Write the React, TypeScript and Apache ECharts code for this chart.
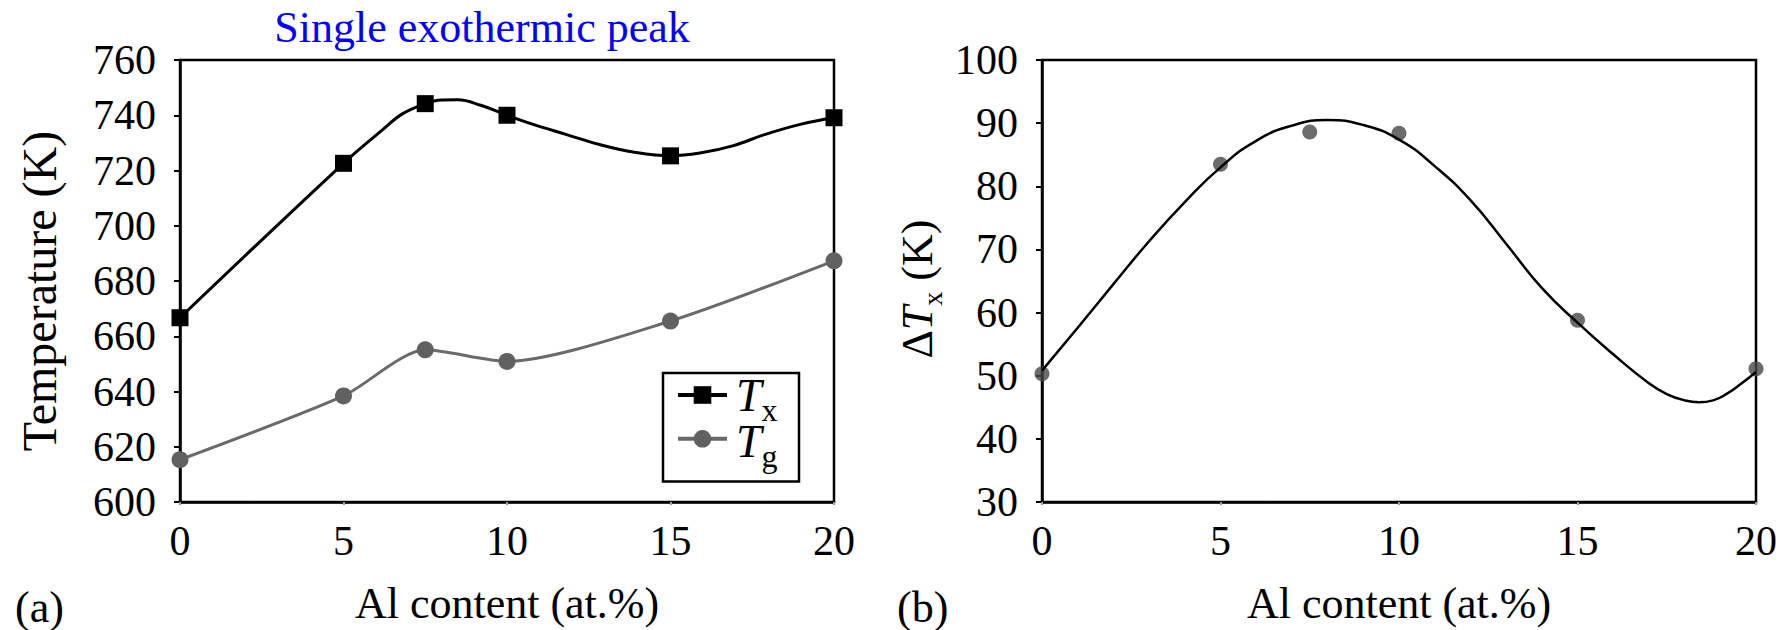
import React, { useEffect, useRef } from 'react';
import * as echarts from 'echarts';

// ---- data ----
const alContent = [0, 5, 7.5, 10, 15, 20];
const txValues = [666.7, 722.6, 744.2, 740.0, 725.3, 739.1];
const tgValues = [615.3, 638.4, 655.1, 650.9, 665.5, 687.3];
const deltaTxValues = [50.3, 83.5, 88.6, 88.4, 58.8, 51.1];
// smoothed Tx line of panel (a)
const txCurveX = [0, 5, 6.2, 6.8, 7.5, 8.0, 8.5, 9.2, 10, 10.8, 11.8, 12.8, 13.9, 15, 15.9, 16.9, 17.9, 19, 20];
const txCurveY = [666.7, 722.6, 734.8, 740.5, 744.2, 745.5, 745.6, 743.6, 740.0, 736.7, 733.1, 729.5, 726.6, 725.3, 726.3, 728.9, 733.1, 736.8, 739.1];
// fitted curve of panel (b)
const fitX = [0, 1, 2, 3, 4, 5, 6, 7, 8, 9, 10, 11, 12, 13, 14, 15, 16, 17, 17.5, 18, 18.4, 18.8, 19.2, 19.6, 20];
const fitY = [50.8, 57.6, 64.5, 71.3, 77.5, 83.0, 87.2, 89.6, 90.5, 89.7, 87.4, 83.2, 77.8, 70.9, 63.9, 58.4, 53.4, 48.8, 47.1, 46.1, 45.8, 46.1, 47.2, 48.8, 50.6];

const xRange = { min: 0, max: 20, interval: 5 };
const tempRange = { min: 600, max: 760, interval: 20 };
const deltaRange = { min: 30, max: 100, interval: 10 };

const FONT = '"Liberation Serif", "Times New Roman", serif';

export default function App() {
  const ref = useRef<HTMLDivElement>(null);
  useEffect(() => {
    if (!ref.current) return;
    const chart = echarts.init(ref.current, undefined, { renderer: 'svg' });
    const labelStyle = { fontFamily: FONT, fontSize: 42, color: '#000' };
    const nameStyle = { fontFamily: FONT, fontSize: 44, color: '#000' };
    const legendRich = {
      i: { fontFamily: FONT, fontStyle: 'italic', fontSize: 46, lineHeight: 44, fill: '#000' },
      s: { fontFamily: FONT, fontSize: 32, lineHeight: 44, height: 14, verticalAlign: 'bottom', fill: '#000' },
    };
    const xAxisBase = (gridIndex: number) => ({
      gridIndex,
      type: 'value',
      ...xRange,
      splitLine: { show: false },
      axisLine: { show: true, lineStyle: { color: '#000', width: 2.5 } },
      axisTick: { show: true, length: 3, lineStyle: { color: '#999', width: 2 } },
      axisLabel: { ...labelStyle, margin: 18 },
      name: 'Al content (at.%)',
      nameLocation: 'middle',
      nameGap: 79,
      nameTextStyle: nameStyle,
    });
    const yAxisBase = (gridIndex: number) => ({
      gridIndex,
      type: 'value',
      splitLine: { show: false },
      axisLine: { show: true, lineStyle: { color: '#000', width: 2.5 } },
      axisTick: { show: true, length: 6, lineStyle: { color: '#000', width: 2 } },
      axisLabel: { ...labelStyle, margin: 24 },
    });
    const option: any = {
      animation: false,
      backgroundColor: '#fff',
      grid: [
        { left: 180, top: 60, width: 654, height: 446, show: true, borderColor: '#000', borderWidth: 2.5 },
        { left: 1042, top: 60, width: 714, height: 446, show: true, borderColor: '#000', borderWidth: 2.5 },
      ],
      xAxis: [xAxisBase(0), xAxisBase(1)],
      yAxis: [
        { ...yAxisBase(0), ...tempRange },
        { ...yAxisBase(1), ...deltaRange },
      ],
      legend: {
        data: ['Tx', 'Tg'],
        orient: 'vertical',
        left: 663,
        top: 373,
        padding: [11, 70, 34, 13],
        itemGap: 24,
        itemWidth: 49,
        itemHeight: 22,
        borderColor: '#000',
        borderWidth: 2.5,
        backgroundColor: '#fff',
        lineStyle: { width: 4 },
        formatter: () => '',
        textStyle: { color: '#000', fontSize: 12 },
      },
      graphic: [
        {
          type: 'text',
          x: 482,
          y: 27,
          style: { text: 'Single exothermic peak', font: `44px ${FONT}`, fill: '#0000ff', textAlign: 'center', textVerticalAlign: 'middle' },
        },
        {
          type: 'text',
          x: 39,
          y: 291,
          rotation: Math.PI / 2,
          style: { text: 'Temperature (K)', font: `48px ${FONT}`, fill: '#000', textAlign: 'center', textVerticalAlign: 'middle' },
        },
        {
          type: 'text',
          x: 917,
          y: 289,
          rotation: Math.PI / 2,
          style: {
            text: '{d|Δ}{i|T}{s|x}{n| (K)}',
            fill: '#000',
            textAlign: 'center',
            textVerticalAlign: 'middle',
            rich: {
              d: { fontFamily: FONT, fontSize: 44, fill: '#000', lineHeight: 44 },
              i: { fontFamily: FONT, fontSize: 44, fontStyle: 'italic', fill: '#000', lineHeight: 44 },
              s: { fontFamily: FONT, fontSize: 28, fill: '#000', lineHeight: 44, height: 14, verticalAlign: 'bottom' },
              n: { fontFamily: FONT, fontSize: 44, fill: '#000', lineHeight: 44 },
            },
          },
        },
        {
          type: 'text',
          x: 736,
          y: 395,
          z: 100,
          style: { text: '{i|T}{s|x}', rich: legendRich, textAlign: 'left', textVerticalAlign: 'middle' },
        },
        {
          type: 'text',
          x: 736,
          y: 441,
          z: 100,
          style: { text: '{i|T}{s|g}', rich: legendRich, textAlign: 'left', textVerticalAlign: 'middle' },
        },
        {
          type: 'text',
          x: 15,
          y: 607,
          style: { text: '(a)', font: `44px ${FONT}`, fill: '#000', textAlign: 'left', textVerticalAlign: 'middle' },
        },
        {
          type: 'text',
          x: 897,
          y: 607,
          style: { text: '(b)', font: `44px ${FONT}`, fill: '#000', textAlign: 'left', textVerticalAlign: 'middle' },
        },
      ],
      series: [
        {
          name: 'Tx curve',
          type: 'line',
          xAxisIndex: 0,
          yAxisIndex: 0,
          data: txCurveX.map((x, i) => [x, txCurveY[i]]),
          smooth: 0.4,
          symbol: 'none',
          lineStyle: { color: '#000', width: 3 },
          z: 2,
        },
        {
          name: 'Tx',
          type: 'line',
          xAxisIndex: 0,
          yAxisIndex: 0,
          data: alContent.map((x, i) => [x, txValues[i]]),
          symbol: 'rect',
          symbolSize: 17,
          itemStyle: { color: '#000' },
          lineStyle: { color: '#000', width: 0 },
          z: 4,
        },
        {
          name: 'Tg',
          type: 'line',
          xAxisIndex: 0,
          yAxisIndex: 0,
          data: alContent.map((x, i) => [x, tgValues[i]]),
          smooth: 0.25,
          symbol: 'circle',
          symbolSize: 17,
          itemStyle: { color: '#616161' },
          lineStyle: { color: '#6a6a6a', width: 3 },
          z: 3,
        },
        {
          name: 'ΔTx',
          type: 'scatter',
          xAxisIndex: 1,
          yAxisIndex: 1,
          data: alContent.map((x, i) => [x, deltaTxValues[i]]),
          symbol: 'circle',
          symbolSize: 15,
          itemStyle: { color: '#474747' },
          z: 2,
        },
        {
          name: 'fit',
          type: 'line',
          xAxisIndex: 1,
          yAxisIndex: 1,
          data: fitX.map((x, i) => [x, fitY[i]]),
          smooth: true,
          symbol: 'none',
          lineStyle: { color: '#000', width: 2.5 },
          z: 3,
        },
      ],
    };
    chart.setOption(option);
    return () => chart.dispose();
  }, []);
  return (
    <div
      ref={ref}
      style={{ position: 'fixed', left: 0, top: 0, width: 1789, height: 630, background: '#fff' }}
    />
  );
}
